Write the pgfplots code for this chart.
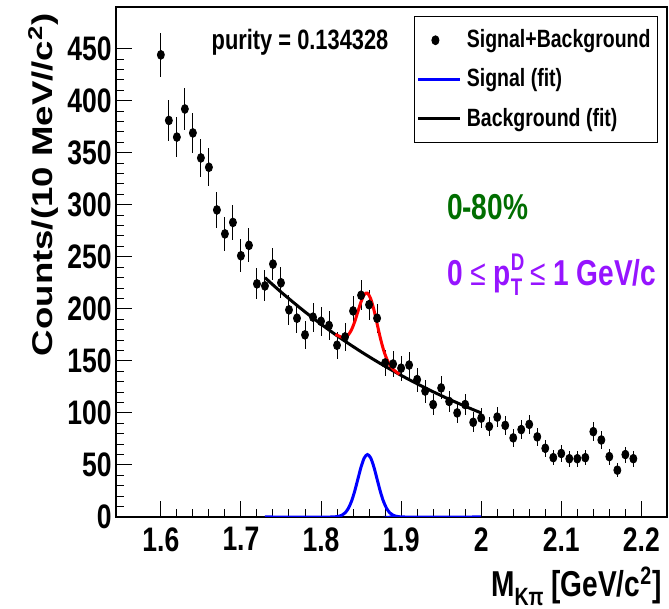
\documentclass[border=0pt]{standalone}
\usepackage{fontspec}
\setmainfont{Liberation Sans}[FakeStretch=0.78]
\newfontfamily\plainsans{Liberation Sans}
\usepackage{graphicx}
\usepackage{pgfplots}
\pgfplotsset{compat=1.18}
\usepackage{pgfplotstable}

\definecolor{rootgreen}{RGB}{0,110,0}
\definecolor{rootviolet}{RGB}{150,20,255}

% longer line sample in the legend
\pgfplotsset{longline/.style={legend image code/.code={\draw[##1] (0pt,0pt) -- (21pt,0pt);}}}

% signal+background histogram, sqrt(N) errors
\pgfplotstableread{
x     y    e
1.60  444  21.1
1.61  381  19.5
1.62  365  19.1
1.63  392  19.8
1.64  369  19.2
1.65  345  18.6
1.66  336  18.3
1.67  295  17.2
1.68  272  16.5
1.69  283  16.8
1.70  251  15.8
1.71  261  16.2
1.72  224  15.0
1.73  222  14.9
1.74  243  15.6
1.75  225  15.0
1.76  199  14.1
1.77  191  13.8
1.78  175  13.2
1.79  192  13.9
1.80  188  13.7
1.81  184  13.6
1.82  165  12.8
1.83  173  13.2
1.84  198  14.1
1.85  213  14.6
1.86  204  14.3
1.87  191  13.8
1.88  148  12.2
1.89  147  12.1
1.90  143  12.0
1.91  146  12.1
1.92  132  11.5
1.93  121  11.0
1.94  108  10.4
1.95  124  11.1
1.96  111  10.5
1.97  100  10.0
1.98  108  10.4
1.99   91   9.5
2.00   95   9.7
2.01   87   9.3
2.02   96   9.8
2.03   88   9.4
2.04   76   8.7
2.05   84   9.2
2.06   89   9.4
2.07   77   8.8
2.08   66   8.1
2.09   57   7.5
2.10   61   7.8
2.11   56   7.5
2.12   56   7.5
2.13   57   7.5
2.14   82   9.1
2.15   74   8.6
2.16   58   7.6
2.17   45   6.7
2.18   60   7.7
2.19   56   7.5
}\datatable

% background fit
\pgfplotstableread{
x     y
1.73  230.0
1.74  223.0
1.75  216.2
1.76  209.7
1.77  203.3
1.78  197.1
1.79  191.1
1.80  185.3
1.81  179.7
1.82  174.2
1.83  168.9
1.84  163.8
1.85  158.8
1.86  154.0
1.87  149.3
1.88  144.8
1.89  140.4
1.90  136.1
1.91  132.0
1.92  128.0
1.93  124.1
1.94  120.3
1.95  116.7
1.96  113.1
1.97  109.7
1.98  106.4
1.99  103.1
2.00  100.0
}\bkgtable

% signal fit
\pgfplotstableread{
x      y
1.730  0
1.814  0
1.818  0.23
1.822  0.67
1.826  1.71
1.830  3.94
1.834  8.12
1.838  14.96
1.842  24.67
1.846  36.39
1.850  48.04
1.854  56.76
1.858  60.00
1.862  56.76
1.866  48.04
1.870  36.39
1.874  24.67
1.878  14.96
1.882  8.12
1.886  3.94
1.890  1.71
1.894  0.67
1.898  0.23
1.902  0
2.000  0
}\sigtable

% signal+background fit
\pgfplotstableread{
x      y
1.818  175.5
1.822  173.9
1.826  172.7
1.830  172.8
1.834  174.9
1.838  179.8
1.842  187.5
1.846  197.2
1.850  206.8
1.854  213.7
1.858  215.0
1.862  209.8
1.866  199.2
1.870  185.7
1.874  172.2
1.878  160.7
1.882  152.0
1.886  146.0
1.890  142.1
1.894  139.3
1.898  137.1
}\sumtable

\begin{document}
\begin{tikzpicture}
\begin{axis}[
    scale only axis,
    width=275.5pt, height=255pt,
    xmin=1.544, xmax=2.232,
    ymin=0, ymax=490,
    axis line style={line width=0.6pt},
    tick align=inside,
    tick pos=left,
    tick style={black, line width=0.5pt},
    major tick length=8pt, minor tick length=4pt,
    xtick={1.6,1.7,1.8,1.9,2,2.1,2.2},
    xticklabels={1.6,1.7,1.8,1.9,2,2.1,2.2},
    minor x tick num=4,
    ytick={0,50,100,150,200,250,300,350,400,450},
    minor y tick num=4,
    /pgf/number format/assume math mode=true,
    /pgf/number format/1000 sep={},
    tick label style={font=\fontsize{17}{17}\selectfont\bfseries},
    xticklabel style={inner ysep=1pt, yshift=-4pt},
    yticklabel style={inner xsep=2pt},
    legend style={at={(0.9837,0.982)}, anchor=north east, draw=black,
        line width=0.5pt, fill=white, row sep=5pt, inner xsep=1pt, inner ysep=4.5pt,
        nodes={inner xsep=2.5pt},
        font=\fontsize{12.5}{13}\selectfont\bfseries},
    legend cell align=left,
]
\addplot[only marks, mark=*, black, mark size=2.2pt, mark options={xscale=0.8},
    error bars/.cd, y dir=both, y explicit, error mark=none,
    error bar style={line width=0.5pt}]
    table[x=x, y=y, y error=e] {\datatable};
\addlegendentry{Signal+Background}
\addplot[blue, line width=1.5pt, smooth, longline] table[x=x, y=y] {\sigtable};
\addlegendentry{Signal (fit)}
\addplot[black, line width=1.5pt, smooth, longline] table[x=x, y=y] {\bkgtable};
\addlegendentry{Background (fit)}
\addplot[red, line width=1.5pt, smooth, forget plot] table[x=x, y=y] {\sumtable};

\coordinate (ax-sw) at (rel axis cs:0,0);
\coordinate (ax-se) at (rel axis cs:1,0);
\coordinate (ax-nw) at (rel axis cs:0,1);
\coordinate (ax-ne) at (rel axis cs:1,1);
\coordinate (t-pur) at (rel axis cs:0.334,0.931);
\coordinate (t-cen) at (rel axis cs:0.6,0.608);
\coordinate (t-pt) at (rel axis cs:0.6,0.475);
\end{axis}

\node[font=\fontsize{14}{14}\selectfont\bfseries] at (t-pur) {purity = 0.134328};
\node[anchor=west, inner xsep=0pt, text=rootgreen, font=\fontsize{18}{18}\selectfont\bfseries] at (t-cen) {0-80\%};
\node[anchor=west, inner xsep=0pt, text=rootviolet, font=\fontsize{18}{18}\selectfont\bfseries] at (t-pt)
    {0 {\mdseries ≤} p\rlap{\raisebox{0.8ex}{\fontsize{12}{12}\selectfont D}}\raisebox{-0.5ex}{\fontsize{12}{12}\selectfont T} {\mdseries ≤} 1 GeV/c};

% axis titles
\node[anchor=base east, inner sep=0pt, font=\fontsize{18}{18}\selectfont\bfseries]
    at ([xshift=-2.5pt, yshift=-40pt]ax-se)
    {M\raisebox{-0.45ex}{\fontsize{12.5}{12.5}\selectfont Kπ} [GeV/c\textsuperscript{2}]};
\node[rotate=90, anchor=base east, inner sep=0pt]
    at ([xshift=-32pt, yshift=-3pt]ax-nw)
    {\scalebox{1}[0.78]{\plainsans\fontsize{18.3}{18.3}\selectfont\bfseries Counts/(10 MeV//c\textsuperscript{2})}};

% page size as in the reference
\pgfresetboundingbox
\path ([xshift=-58pt, yshift=-46pt]ax-sw) rectangle ([xshift=1pt, yshift=3.5pt]ax-ne);
\end{tikzpicture}
\end{document}
